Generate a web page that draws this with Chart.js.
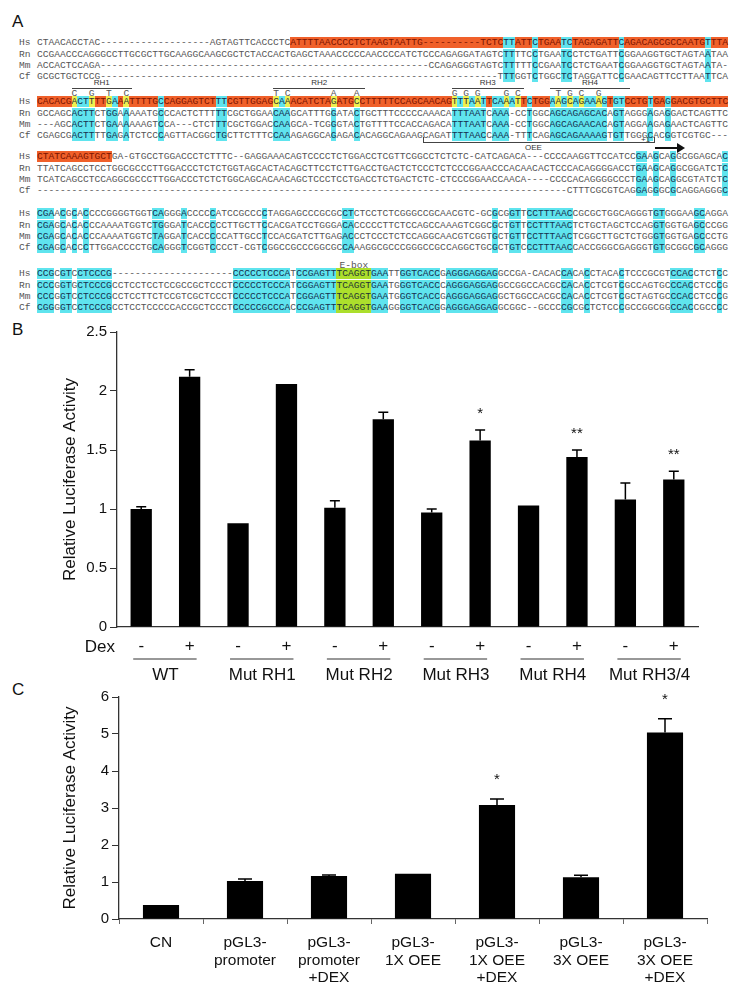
<!DOCTYPE html>
<html>
<head>
<meta charset="utf-8">
<script src="https://cdn.jsdelivr.net/npm/chart.js@4.4.0/dist/chart.umd.min.js"></script>
<style>
  body { margin: 0; background: #fff; }
  #fig { position: relative; width: 740px; height: 996px; overflow: hidden; font-family: "Liberation Sans", Arial, sans-serif; }
  .panel { position: absolute; font-size: 17px; color: #111; }
  .row { position: absolute; font-family: "Liberation Mono", "DejaVu Sans Mono", monospace; font-size: 9.6px; line-height: 11.2px; height: 11.2px; white-space: pre; color: #555; }
  .small { position: absolute; font-size: 8px; color: #333; white-space: pre; }
  .hline { position: absolute; height: 0; border-top: 1px solid #444; }
  .o { background: #f0602a; color: #7a1400; }
  .c { background: #5fe4ee; color: #16304e; }
  .y { background: #eef050; color: #333; }
  .g { background: #acdf2c; color: #233; }
  canvas { position: absolute; left: 0; }
</style>
</head>
<body>
<div id="fig">
  <div class="panel" style="left:12px;top:12px;">A</div>
  <div class="panel" style="left:12px;top:320px;">B</div>
  <div class="panel" style="left:12px;top:680px;">C</div>
  <div id="align"></div>
  <canvas id="chartB" width="740" height="370" style="top:320px;"></canvas>
  <canvas id="chartC" width="740" height="311" style="top:685px;"></canvas>
</div>
<script>
// --- Panel A: alinhamento ---
const gap = (n) => "-".repeat(n);
const species = ["Hs", "Rn", "Mm", "Cf"];

const block1 = [
  "CTAACACCTAC" + gap(19) + "AGTAGTTCACCCTCATTTTAACCCCTCTAAGTAATTG" + gap(10) + "TCTCTTATTCTGAATCTAGAGATTCAGACAGCGCCAATGTTTA",
  "CCGAACCCAGGGCCTTGCGCTTGCAAGGCAAGCGCTCTACCACTGAGCTAAACCCCCAACCCCATCTCCCAGAGGATAGTCTTTTCCTGAATCCTCTGATTCGGAAGGTGCTAGTAATAA",
  "ACCACTCCAGA" + gap(57) + "CCAGAGGGTAGTCTTTTTCCGAATCCTCTGAATCGGAAGGTGCTAGTAATA-",
  "GCGCTGCTCCG" + gap(69) + "TTTGGTCTGGCTCTAGGATTCCGAACAGTTCCTTAATTCA",
];
const block2 = [
  "CACACGACTTTTGAAATTTTGCCAGGAGTCTTTCGTTGGAGCAAACATCTAGATGCCTTTTTCCAGCAACAGTTTAATTCAAATTCTGGAAGCAGAAAGTGTCCTGTGAGGACGTGCTTC",
  "GCCAGCACTTCTGGAAAAATGCCCACTCTTTTTCGCTGGAACAAGCATTTGGATACTGCTTTCCCCCAAACATTTAATCAAA-CCTGGCAGCAGAGCACAGTAGGGAGAGGACTCAGTTC",
  "---AGCACTTCTGAAAAAAGTCCA---CTCTTTCGCTGGACCAAGCA-TCGGGTACTGTTTTCCACCAGACATTTAATCAAA-CCTGGCAGCAGAACACAGTAGGAAGAGAACTCAGTTC",
  "CGAGCGACTTTTGAGATCTCCCAGTTACGGCTGCTTCTTTCCAAAGAGGCAGAGACACAGGCAGAAGCAGATTTTAACCAAA-TTTCAGAGCAGAAAAGTGTTGGGCACGGTCGTGC---",
];
const block3 = [
  "CTATCAAAGTGCTGA-GTGCCTGGACCCTCTTTC--GAGGAAACAGTCCCCTCTGGACCTCGTTCGGCCTCTCTC-CATCAGACA---CCCCAAGGTTCCATCCGAAGCAGGCGGAGCAC",
  "TTATCAGCCTCCTGGCGCCCTTGGACCCTCTCTGGTAGCACTACAGCTTCCTCTTGACCTGACTCTCCCTCTCCCGGAACCCACAACACTCCCACAGGGGACCTGAAGCAGGCGGATCTC",
  "TCATCAGCCTCCAGGCGCCCTTGGACCCTCTCTGGCAGCACAACAGCTCCCTCCTGACCTCTGACTCTC-CTCCCGGAACCAACA----CCCCACAGGGGCCCTGAAGCAGGCGTATCTC",
  gap(92) + "CTTTCGCGTCAGGAGGGCGCAGGAGGGC",
];
const block4 = [
  "CGAACGCACCCCGGGGTGGTCAGGGACCCCCATCCGCCCCTAGGAGCCCGCGCCTCTCCTCTCGGGCCGCAACGTC-GCGCGGTTCCTTTAACCGCGCTGGCAGGGTGTGGGAAGCAGGA",
  "CGAGCACACCCAAAATGGTCTGGGATCACCCCCTTGCTTCCACGATCCTGGGACACCCCCTTCTCCAGCCAAAGTCGGCGCTGTTCCTTTAACTCTGCTAGCTCCAGGTGGTGAGCCCGG",
  "CGAGCACACCCAAAATGGTCTAGGATCACCCCCATTGCCTCCACGATCTTGAGACCCTCCCTCTCCAGGCAACGTCGGTGCTGTTCCTTTAACTCGGCTTGCTCTGGGTGGTGAGCCCTG",
  "CGAGCACCCTTGGACCCCTGCAGGGTCGGTCCCCT-CGTCGGCCGCCCGGCGCCAAAGGCGCCCGGGCCGCCAGGCTGCGCTGTCCCTTTAACCACCGGGCGAGGGTGTGCGGCGCAGGG",
];
const block5 = [
  "CCGCGTCCTCCCG" + gap(21) + "CCCCCTCCCATCCGAGTTTCAGGTGAATTGGTCACCGAGGGAGGAGGCCGA-CACACCACACCTACACTCCCGCGTCCACCTCTCC",
  "CCCGGTGCTCCCGCCTCCTCCTCCGCCGCTCCCTCCCCCTCCCATCGGAGTTTCAGGTGAATGGGTCACCCAGGGAGGAGGCCGGCCACGCCACACCTCGTCGCCAGTGCCCACCTCCCG",
  "CCCGGTCCTCCCGCCTCCTTCTCCGTCGCTCCCTCCCCCTCCCATCGGAGTTTCAGGTGAATGGGTCACCGAGGGAGGAGGCTGGCCACGCCACACCTCGTCGCTAGTGCCCACCTCCCG",
  "CGGGGTCCTCCCGCCTCCTCCCCCACCGCTCCCTCCCCCGCCCACCCGAGTTTCAGGTGAAGGGGTCACGGAGGGAGGAGGCGGC--GCCCCGCGCTCTCCCGCCGGCGGCCACCGCCCC",
];

// colunas destacadas (laranja só em Hs, amarelo = mutações, verde = E-box)
const orangeCols = [[[44, 119]], [[0, 119]], [[0, 12]], [], []];
const cyanCols = [
  [[81, 82], [86, 86], [91, 92], [101, 101], [116, 116]],
  [[6, 9], [12, 13], [15, 15], [21, 21], [31, 32], [41, 43], [51, 51], [55, 55], [72, 77], [79, 82], [85, 85], [89, 98], [100, 101], [106, 106], [109, 109]],
  [[104, 105], [107, 107], [110, 110], [119, 119]],
  [[0, 2], [4, 4], [6, 6], [8, 8], [20, 21], [25, 25], [30, 30], [39, 39], [53, 54], [79, 79], [82, 83], [85, 92], [107, 108], [114, 115]],
  [[0, 2], [4, 5], [7, 12], [34, 43], [45, 51], [58, 60], [63, 69], [71, 79], [91, 92], [95, 95], [101, 101], [110, 113], [118, 118]],
];
const yellowCols = [6, 9, 12, 15, 41, 43, 51, 55, 72, 74, 76, 81, 83, 90, 92, 94, 97];
const eboxCols = [52, 57];
const blockY = [43, 102, 157, 214, 274];

const blocks = [block1, block2, block3, block4, block5];
const CH = 5.76, X0 = 37, ROW = 11.2;
const colX = (c) => X0 + c * CH;
const inR = (ranges, i) => ranges.some(([a, b]) => i >= a && i <= b);

const alignEl = document.getElementById("align");
let html = "";
blocks.forEach((seqs, b) => {
  seqs.forEach((seq, r) => {
    const top = blockY[b] + r * ROW - ROW / 2;
    html += `<div class="row" style="left:19px;top:${top}px;">${species[r]}</div>`;
    let runs = "", cur = null, buf = "";
    for (let i = 0; i < seq.length; i++) {
      const ch = seq[i];
      let k = "";
      if (b === 4 && i >= eboxCols[0] && i <= eboxCols[1]) k = "g";
      else if (b === 1 && r === 0 && yellowCols.includes(i)) k = "y";
      else if (ch !== "-" && inR(cyanCols[b], i)) k = "c";
      else if (r === 0 && inR(orangeCols[b], i)) k = "o";
      if (k !== cur) {
        if (buf) runs += cur ? `<span class="${cur}">${buf}</span>` : buf;
        cur = k; buf = "";
      }
      buf += ch;
    }
    if (buf) runs += cur ? `<span class="${cur}">${buf}</span>` : buf;
    html += `<div class="row" style="left:${X0}px;top:${top}px;">${runs}</div>`;
  });
});

// marcas RH1-RH4 sobre o bloco 2
const rhNames = ["RH1", "RH2", "RH3", "RH4"];
const rhSpans = [[6, 15.5], [41, 56], [72, 83.5], [89, 102]];
const rhLetters = [
  [[6, "C"], [9, "G"], [12, "T"], [15, "C"]],
  [[41, "T"], [43, "C"], [51, "A"], [55, "A"]],
  [[72, "G"], [74, "G"], [76, "G"], [81, "G"], [83, "C"]],
  [[90, "T"], [92, "G"], [94, "C"], [97, "G"]],
];
rhNames.forEach((name, i) => {
  const [a, b] = rhSpans[i];
  const x1 = colX(a), x2 = colX(b + 1);
  html += `<div class="hline" style="left:${x1}px;top:88px;width:${x2 - x1}px;"></div>`;
  html += `<div class="small" style="left:${(x1 + x2) / 2 - 8}px;top:78px;">${name}</div>`;
  rhLetters[i].forEach(([c, l]) => {
    html += `<div class="row" style="left:${colX(c)}px;top:88px;">${l}</div>`;
  });
});
// OEE, +1 e E-box
html += `<div style="position:absolute;left:423px;top:137px;width:230px;height:5px;border:1px solid #444;border-top:none;"></div>`;
html += `<div class="small" style="left:525px;top:143px;">OEE</div>`;
html += `<div class="small" style="left:641px;top:135px;">+1</div>`;
html += `<div class="hline" style="left:655px;top:147px;width:24px;border-top:2px solid #111;"></div>`;
html += `<div style="position:absolute;left:677px;top:143px;width:0;height:0;border-left:8px solid #111;border-top:5px solid transparent;border-bottom:5px solid transparent;"></div>`;
html += `<div class="row" style="left:${colX(52.5)}px;top:260px;">E-box</div>`;
alignEl.innerHTML = html;

// --- Painel B ---
const bGroups = ["WT", "Mut RH1", "Mut RH2", "Mut RH3", "Mut RH4", "Mut RH3/4"];
const bDex = ["-", "+", "-", "+", "-", "+", "-", "+", "-", "+", "-", "+"];
const bValues = [1.0, 2.12, 0.88, 2.06, 1.01, 1.76, 0.97, 1.58, 1.03, 1.44, 1.08, 1.25];
const bErrors = [0.02, 0.06, 0, 0, 0.06, 0.06, 0.03, 0.09, 0, 0.06, 0.14, 0.07];
const bStars = ["", "", "", "", "", "", "", "*", "", "**", "", "**"];

// --- Painel C ---
const cLabels = [
  ["CN"],
  ["pGL3-", "promoter"],
  ["pGL3-", "promoter", "+DEX"],
  ["pGL3-", "1X OEE"],
  ["pGL3-", "1X OEE", "+DEX"],
  ["pGL3-", "3X OEE"],
  ["pGL3-", "3X OEE", "+DEX"],
];
const cValues = [0.38, 1.03, 1.16, 1.22, 3.08, 1.13, 5.04];
const cErrors = [0, 0.05, 0.03, 0, 0.16, 0.05, 0.37];
const cStars = ["", "", "", "", "*", "", "*"];

Chart.defaults.font.family = "'Liberation Sans', Arial, sans-serif";
Chart.defaults.color = "#111";

// barras de erro + asteriscos
const errorPlugin = (errors, stars, cap, gapPx) => ({
  id: "errs",
  afterDatasetsDraw(chart) {
    const { ctx, scales: { y } } = chart;
    const meta = chart.getDatasetMeta(0);
    const vals = chart.data.datasets[0].data;
    ctx.save();
    ctx.strokeStyle = "#000";
    ctx.lineWidth = 1.5;
    meta.data.forEach((bar, i) => {
      const top = y.getPixelForValue(vals[i] + errors[i]);
      if (errors[i] > 0) {
        ctx.beginPath();
        ctx.moveTo(bar.x, bar.y);
        ctx.lineTo(bar.x, top);
        ctx.moveTo(bar.x - cap, top);
        ctx.lineTo(bar.x + cap, top);
        ctx.stroke();
      }
      if (stars[i]) {
        ctx.fillStyle = "#111";
        ctx.font = "15px 'Liberation Sans', Arial";
        ctx.textAlign = "center";
        ctx.textBaseline = "middle";
        ctx.fillText(stars[i], bar.x, top - gapPx);
      }
    });
    ctx.restore();
  },
});

// "Dex" e nomes dos grupos sob o eixo x
const groupPlugin = {
  id: "groups",
  afterDraw(chart) {
    const { ctx, scales: { x }, chartArea } = chart;
    ctx.save();
    ctx.fillStyle = "#111";
    ctx.font = "17px 'Liberation Sans', Arial";
    ctx.textAlign = "right";
    ctx.textBaseline = "middle";
    ctx.fillText("Dex", 115, chartArea.bottom + 20);
    ctx.textAlign = "center";
    ctx.strokeStyle = "#333";
    ctx.lineWidth = 1.2;
    bGroups.forEach((g, i) => {
      const a = x.getPixelForValue(i * 2), b = x.getPixelForValue(i * 2 + 1);
      ctx.beginPath();
      ctx.moveTo(a - 8, chartArea.bottom + 32);
      ctx.lineTo(b + 7, chartArea.bottom + 32);
      ctx.stroke();
      ctx.fillText(g, (a + b) / 2, chartArea.bottom + 48);
    });
    ctx.restore();
  },
};

const axisTitle = {
  display: true,
  text: "Relative Luciferase Activity",
  font: { size: 17 },
  color: "#111",
  padding: { top: 60, bottom: 0 },
};
const plainTick = (v) => String(v);

new Chart(document.getElementById("chartB"), {
  type: "bar",
  data: {
    labels: bDex,
    datasets: [{ data: bValues, backgroundColor: "#000", barPercentage: 0.44, categoryPercentage: 1 }],
  },
  options: {
    responsive: false,
    animation: false,
    layout: { padding: { left: 0, top: 12, right: 42, bottom: 0 } },
    plugins: { legend: { display: false }, tooltip: { enabled: false } },
    scales: {
      x: {
        grid: { display: false, drawTicks: false },
        border: { color: "#333", width: 1.3 },
        ticks: { font: { size: 17 }, padding: 9, maxRotation: 0, autoSkip: false },
        afterFit: (s) => { s.height = 63; },
      },
      y: {
        min: 0,
        max: 2.5,
        ticks: { stepSize: 0.5, font: { size: 15 }, padding: 3, callback: plainTick },
        grid: { drawOnChartArea: false, tickLength: 7, color: "#333" },
        border: { color: "#333", width: 1.3 },
        title: axisTitle,
        afterFit: (s) => { s.width = 117; },
      },
    },
  },
  plugins: [errorPlugin(bErrors, bStars, 5, 16), groupPlugin],
});

new Chart(document.getElementById("chartC"), {
  type: "bar",
  data: {
    labels: cLabels,
    datasets: [{ data: cValues, backgroundColor: "#000", barPercentage: 0.43, categoryPercentage: 1 }],
  },
  options: {
    responsive: false,
    animation: false,
    layout: { padding: { left: 0, top: 12, right: 33, bottom: 0 } },
    plugins: { legend: { display: false }, tooltip: { enabled: false } },
    scales: {
      x: {
        grid: { drawOnChartArea: false, tickLength: 5, color: "#666" },
        border: { color: "#333", width: 1.3 },
        ticks: { font: { size: 15.5, lineHeight: 1.13 }, padding: 10, maxRotation: 0, autoSkip: false },
        afterFit: (s) => { s.height = 77; },
      },
      y: {
        min: 0,
        max: 6,
        ticks: { stepSize: 1, font: { size: 15 }, padding: 3, callback: plainTick },
        grid: { drawOnChartArea: false, tickLength: 7, color: "#333" },
        border: { color: "#333", width: 1.3 },
        title: axisTitle,
        afterFit: (s) => { s.width = 119; },
      },
    },
  },
  plugins: [errorPlugin(cErrors, cStars, 7, 19)],
});
</script>
</body>
</html>
